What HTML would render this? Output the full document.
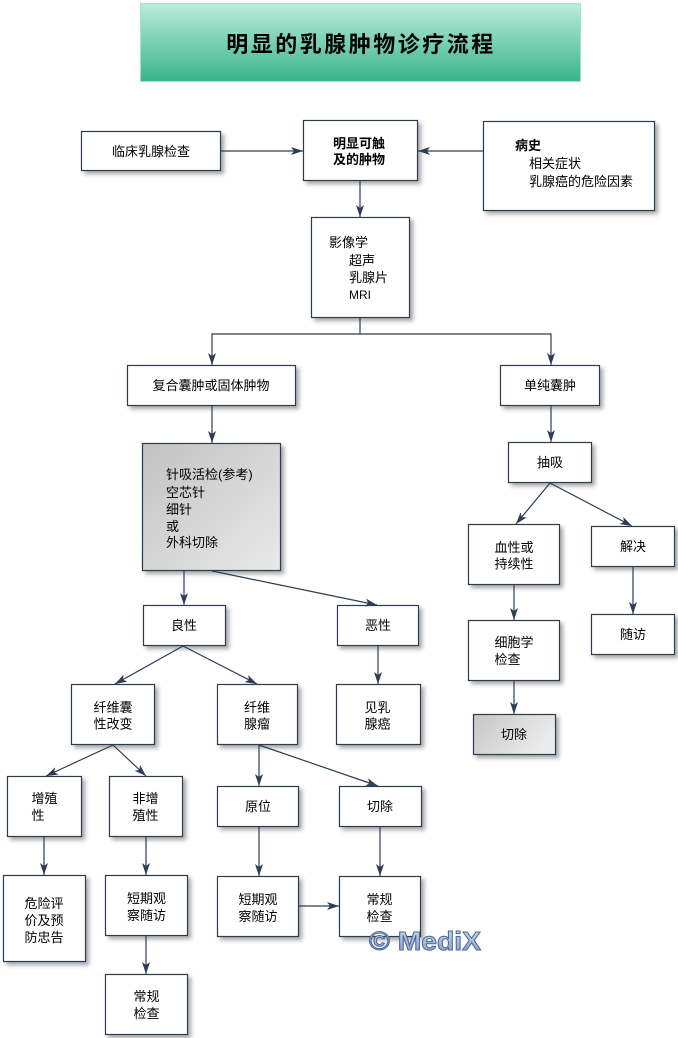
<!DOCTYPE html>
<html>
<head>
<meta charset="utf-8">
<style>
html,body{margin:0;padding:0;background:#fff;}
svg{display:block;}
text{font-family:"Liberation Sans","Noto Sans CJK SC",sans-serif;font-size:13px;fill:#000;}
.b{font-weight:bold;}
</style>
</head>
<body>
<svg width="678" height="1038" viewBox="0 0 678 1038" xmlns="http://www.w3.org/2000/svg">
<defs>
  <linearGradient id="tg" x1="0" y1="0" x2="0" y2="1">
    <stop offset="0" stop-color="#bcecdb"/>
    <stop offset="1" stop-color="#37b48a"/>
  </linearGradient>
  <linearGradient id="gg" x1="0" y1="0" x2="1" y2="1">
    <stop offset="0" stop-color="#c2c2c2"/>
    <stop offset="1" stop-color="#e9e9e9"/>
  </linearGradient>
  <linearGradient id="gg2" x1="0" y1="0" x2="1" y2="0.4">
    <stop offset="0" stop-color="#c6c6c6"/>
    <stop offset="1" stop-color="#ebebeb"/>
  </linearGradient>
  <linearGradient id="wm" x1="0" y1="0" x2="0" y2="1">
    <stop offset="0" stop-color="#d4e0ef"/>
    <stop offset="1" stop-color="#7d9cc6"/>
  </linearGradient>
  <filter id="sh" x="-10%" y="-10%" width="130%" height="130%">
    <feDropShadow dx="3" dy="3" stdDeviation="2" flood-color="#000" flood-opacity="0.35"/>
  </filter>
  <marker id="ar" markerUnits="userSpaceOnUse" markerWidth="13" markerHeight="10" viewBox="0 -5 13 10" refX="12" refY="0" orient="auto">
    <path d="M0,-4 L12,0 L0,4 L3,0 z" fill="#2c3d55"/>
  </marker>
</defs>

<!-- Title -->
<rect x="140.5" y="3.5" width="440" height="78" fill="url(#tg)" stroke="#a8e0cc" stroke-width="1"/>
<text x="361" y="52" text-anchor="middle" class="b" style="font-size:22px;letter-spacing:2.5px;">明显的乳腺肿物诊疗流程</text>

<!-- Boxes -->
<g fill="#fff" stroke="#2c3d50" stroke-width="1.2" filter="url(#sh)">
  <rect x="81.5" y="131.5" width="139" height="39"/>
  <rect x="303.5" y="120.5" width="114" height="60"/>
  <rect x="483.5" y="121.5" width="171" height="89"/>
  <rect x="311.5" y="217.5" width="98" height="100"/>
  <rect x="127.5" y="365.5" width="168" height="40"/>
  <rect x="500.5" y="365.5" width="99" height="40"/>
  <rect x="142.5" y="443.5" width="138" height="127" fill="url(#gg)"/>
  <rect x="143.5" y="605.5" width="82" height="40"/>
  <rect x="337.5" y="605.5" width="81" height="40"/>
  <rect x="508.5" y="442.5" width="83" height="40"/>
  <rect x="468.5" y="524.5" width="91" height="60"/>
  <rect x="591.5" y="526.5" width="83" height="40"/>
  <rect x="468.5" y="620.5" width="91" height="60"/>
  <rect x="591.5" y="614.5" width="83" height="40"/>
  <rect x="473.5" y="714.5" width="82" height="40" fill="url(#gg2)"/>
  <rect x="71.5" y="684.5" width="83" height="60"/>
  <rect x="217.5" y="684.5" width="80" height="60"/>
  <rect x="336.5" y="684.5" width="84" height="60"/>
  <rect x="7.5" y="776.5" width="74" height="60"/>
  <rect x="109.5" y="776.5" width="73" height="60"/>
  <rect x="217.5" y="786.5" width="81" height="40"/>
  <rect x="339.5" y="786.5" width="82" height="40"/>
  <rect x="3.5" y="875.5" width="82" height="86"/>
  <rect x="105.5" y="875.5" width="82" height="60"/>
  <rect x="105.5" y="974.5" width="82" height="60"/>
  <rect x="217.5" y="876.5" width="81" height="60"/>
  <rect x="339.5" y="876.5" width="81" height="60"/>
</g>

<!-- Connectors -->
<g stroke="#2c3d55" stroke-width="1.2" fill="none">
  <line x1="221" y1="151" x2="303" y2="151" marker-end="url(#ar)"/>
  <line x1="483" y1="151" x2="418" y2="151" marker-end="url(#ar)"/>
  <line x1="360" y1="181" x2="360" y2="217" marker-end="url(#ar)"/>
  <polyline points="360,318 360,334 212,334 212,365" marker-end="url(#ar)"/>
  <polyline points="360,334 551,334 551,365" marker-end="url(#ar)"/>
  <line x1="212" y1="406" x2="212" y2="443" marker-end="url(#ar)"/>
  <line x1="551" y1="406" x2="551" y2="442" marker-end="url(#ar)"/>
  <line x1="184" y1="571" x2="184" y2="605" marker-end="url(#ar)"/>
  <line x1="212" y1="571" x2="377" y2="605" marker-end="url(#ar)"/>
  <line x1="550" y1="483" x2="516" y2="524" marker-end="url(#ar)"/>
  <line x1="550" y1="483" x2="632" y2="526" marker-end="url(#ar)"/>
  <line x1="514" y1="585" x2="514" y2="620" marker-end="url(#ar)"/>
  <line x1="514" y1="681" x2="514" y2="714" marker-end="url(#ar)"/>
  <line x1="633" y1="567" x2="633" y2="614" marker-end="url(#ar)"/>
  <line x1="183" y1="646" x2="115" y2="684" marker-end="url(#ar)"/>
  <line x1="183" y1="646" x2="257" y2="684" marker-end="url(#ar)"/>
  <line x1="378" y1="646" x2="378" y2="684" marker-end="url(#ar)"/>
  <line x1="113" y1="745" x2="46" y2="776" marker-end="url(#ar)"/>
  <line x1="113" y1="745" x2="146" y2="776" marker-end="url(#ar)"/>
  <line x1="259" y1="745" x2="259" y2="786" marker-end="url(#ar)"/>
  <line x1="259" y1="745" x2="378" y2="786" marker-end="url(#ar)"/>
  <line x1="44" y1="837" x2="44" y2="875" marker-end="url(#ar)"/>
  <line x1="146" y1="837" x2="146" y2="875" marker-end="url(#ar)"/>
  <line x1="146" y1="936" x2="146" y2="974" marker-end="url(#ar)"/>
  <line x1="259" y1="827" x2="259" y2="876" marker-end="url(#ar)"/>
  <line x1="380" y1="827" x2="380" y2="876" marker-end="url(#ar)"/>
  <line x1="299" y1="906" x2="339" y2="906" marker-end="url(#ar)"/>
</g>

<!-- Texts -->
<text x="151" y="156" text-anchor="middle">临床乳腺检查</text>
<text x="333" y="148" class="b">明显可触</text>
<text x="333" y="164" class="b">及的肿物</text>
<text x="515" y="150" class="b">病史</text>
<text x="529" y="168">相关症状</text>
<text x="529" y="186">乳腺癌的危险因素</text>
<text x="329" y="247">影像学</text>
<text x="349" y="265">超声</text>
<text x="349" y="282">乳腺片</text>
<text x="349" y="299" style="font-size:12px;">MRI</text>
<text x="211" y="390" text-anchor="middle">复合囊肿或固体肿物</text>
<text x="550" y="390" text-anchor="middle">单纯囊肿</text>
<text x="166" y="479">针吸活检(参考)</text>
<text x="166" y="497">空芯针</text>
<text x="166" y="514">细针</text>
<text x="166" y="531">或</text>
<text x="166" y="547">外科切除</text>
<text x="184" y="630" text-anchor="middle">良性</text>
<text x="378" y="630" text-anchor="middle">恶性</text>
<text x="550" y="467" text-anchor="middle">抽吸</text>
<text x="494.5" y="552">血性或</text>
<text x="494.5" y="568.5">持续性</text>
<text x="633" y="551" text-anchor="middle">解决</text>
<text x="494.5" y="647">细胞学</text>
<text x="494.5" y="664">检查</text>
<text x="633" y="639" text-anchor="middle">随访</text>
<text x="514" y="739" text-anchor="middle">切除</text>
<text x="93.5" y="712">纤维囊</text>
<text x="93.5" y="728.5">性改变</text>
<text x="244" y="712">纤维</text>
<text x="244" y="728.5">腺瘤</text>
<text x="364.5" y="712">见乳</text>
<text x="364.5" y="728.5">腺癌</text>
<text x="31.5" y="803">增殖</text>
<text x="31.5" y="820">性</text>
<text x="132.5" y="803">非增</text>
<text x="132.5" y="820">殖性</text>
<text x="258" y="811" text-anchor="middle">原位</text>
<text x="380" y="811" text-anchor="middle">切除</text>
<text x="24.5" y="908">危险评</text>
<text x="24.5" y="925">价及预</text>
<text x="24.5" y="942">防忠告</text>
<text x="127" y="903">短期观</text>
<text x="127" y="920">察随访</text>
<text x="133.5" y="1001">常规</text>
<text x="133.5" y="1018">检查</text>
<text x="238.5" y="904">短期观</text>
<text x="238.5" y="921">察随访</text>
<text x="366.5" y="904">常规</text>
<text x="366.5" y="921">检查</text>

<!-- Watermark -->
<text x="369" y="950" textLength="112" lengthAdjust="spacingAndGlyphs" style="font-family:'Liberation Sans',sans-serif;font-size:26px;font-weight:bold;fill:url(#wm);stroke:#4a6a9a;stroke-width:1;">© MediX</text>
</svg>
</body>
</html>
